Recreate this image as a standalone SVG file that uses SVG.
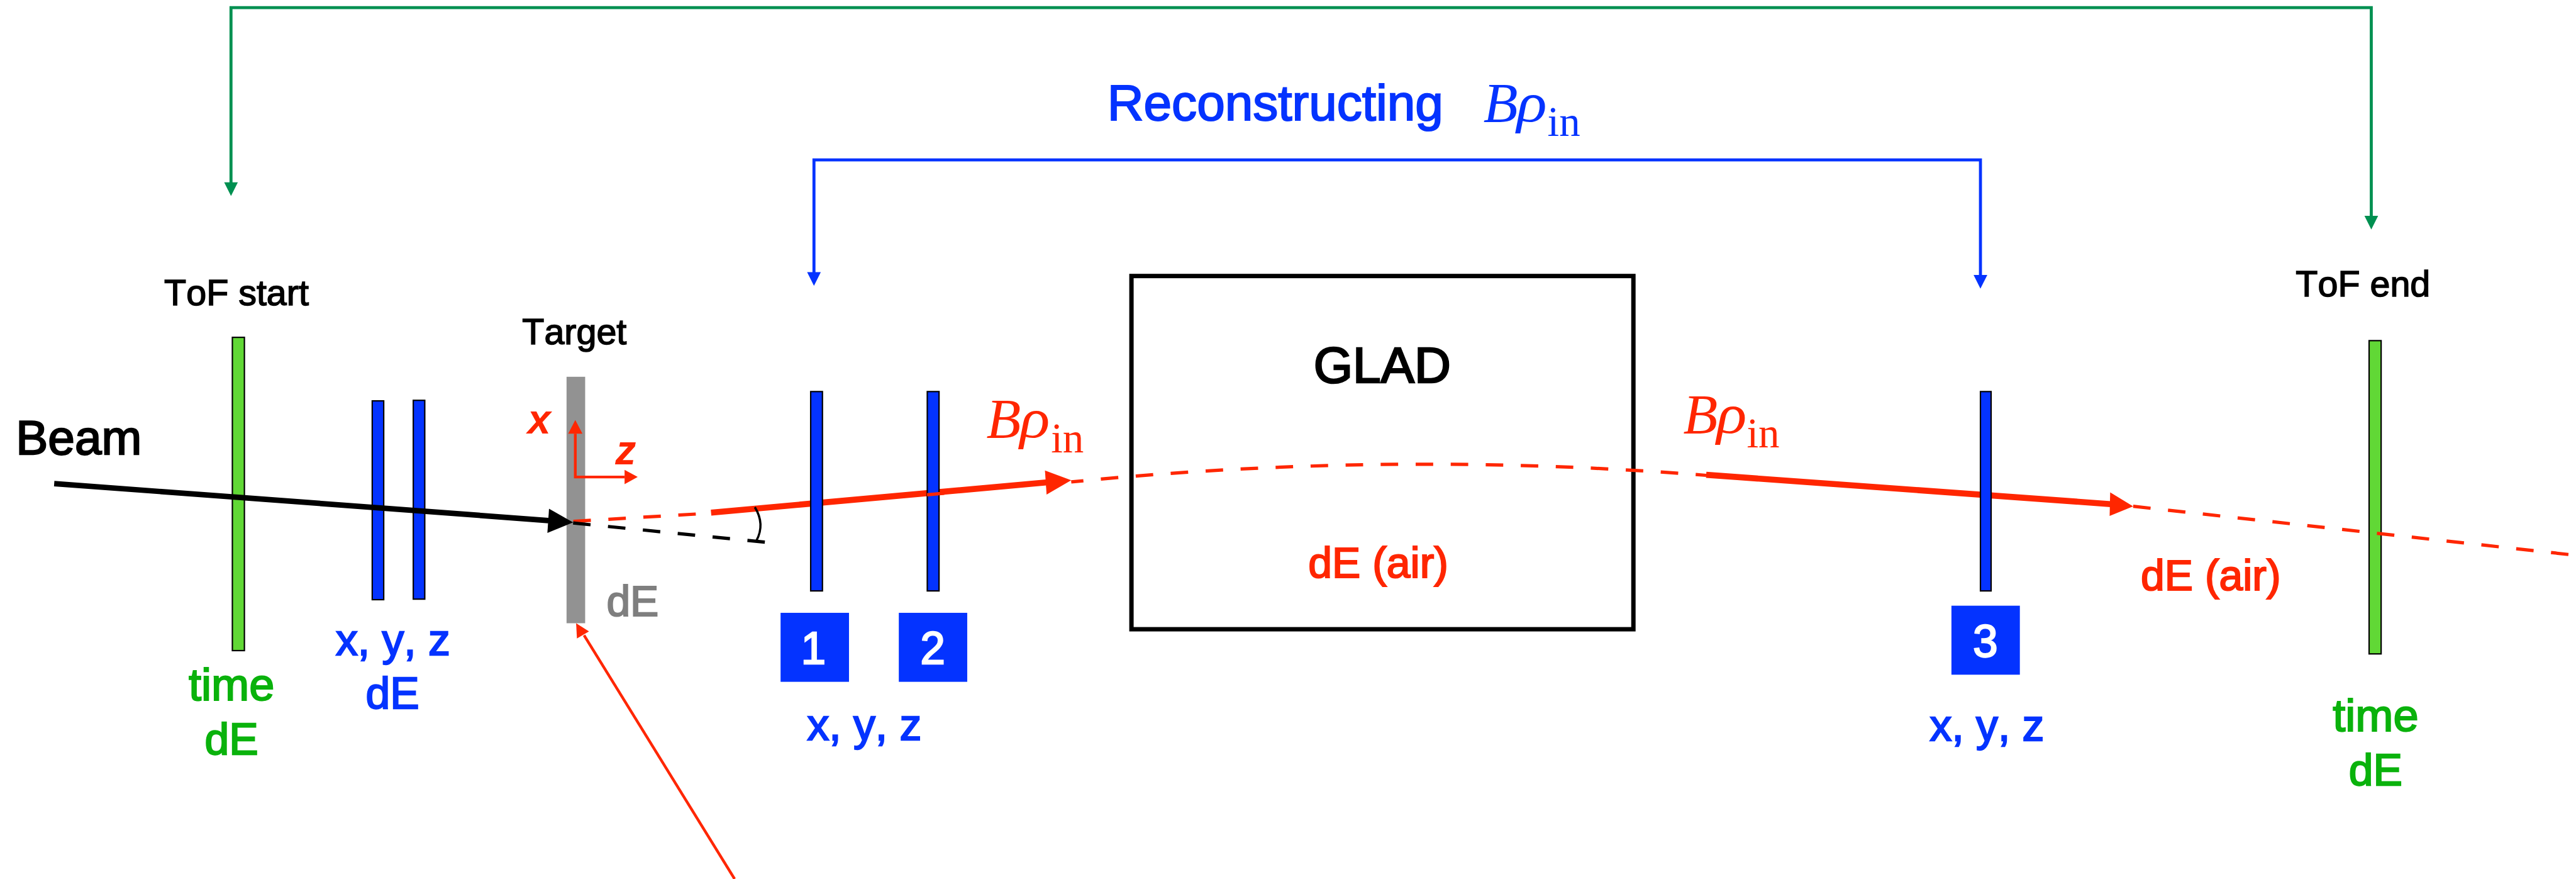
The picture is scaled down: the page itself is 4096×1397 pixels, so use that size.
<svg xmlns="http://www.w3.org/2000/svg" width="4096" height="1397" viewBox="0 0 4096 1397">
<style>
text{font-family:"Liberation Sans",Arial,sans-serif;font-kerning:none;stroke-width:1.8}
.m{text-anchor:middle}
.blue{fill:#0433ff;stroke:#0433ff}.red{fill:#ff2600;stroke:#ff2600}.grn{fill:#0ab20c;stroke:#0ab20c}.blk{fill:#000;stroke:#000}.gry{fill:#7f7f7f;stroke:#7f7f7f}.wht{fill:#fff;stroke:#fff}
.s80{font-size:80px;stroke-width:2.6}.s78{font-size:78px;stroke-width:2.4}.s66{font-size:66px}.s82{font-size:82px;stroke-width:2.6}.s83{font-size:83px;stroke-width:2.4}.s92{font-size:92px;stroke-width:3}.s88{font-size:88px;stroke-width:2.6}.s92b{font-size:92px;stroke-width:2.4}
.sym{font-family:"Liberation Serif","Times New Roman",serif;font-style:italic;font-size:103px;stroke:none}
.sub{font-family:"Liberation Serif","Times New Roman",serif;font-size:77px;stroke:none}
.ax{font-style:italic;font-weight:700;font-size:76px;fill:#ff2600;stroke:none}
.bar-b{fill:#0433ff;stroke:#000;stroke-width:2.5}
.bar-g{fill:#61d836;stroke:#000;stroke-width:2.5}
.lg{fill:none;stroke:#009051;stroke-width:5.5}
.lb{fill:none;stroke:#0433ff;stroke-width:5.5}
.lr{fill:none;stroke:#ff2600}
.hg{fill:#009051}.hb{fill:#0433ff}.hr{fill:#ff2600}
.d{stroke-dasharray:32 32;stroke-width:6}
</style>
<rect width="4096" height="1397" fill="#fff"/>
<g transform="scale(0.87038)">
<g id="thick-trajectories">
<path class="lr" stroke-width="11" d="M1299 936L1911 881"/>
<path class="lr" stroke-width="11" d="M3117 867L3856 920.5"/>
</g>
<g id="tof-start"><rect class="bar-g" x="424.5" y="616" width="22" height="572"/>
<text class="s66 blk" x="300" y="557">ToF start</text>
<text class="grn s83 m" x="423" y="1279">time</text>
<text class="grn s80 m" x="423" y="1377">dE</text></g>
<g id="tracker-in"><rect class="bar-b" x="680" y="732" width="21" height="363"/><rect class="bar-b" x="755" y="731" width="21" height="363"/>
<text class="blue s80 m" x="718" y="1196">x, y, z</text>
<text class="blue s80 m" x="717" y="1294">dE</text></g>
<g id="target"><rect x="1035" y="688" width="34" height="450" fill="#929292"/>
<text class="s66 blk" x="954" y="629">Target</text>
<text class="gry s78" x="1108" y="1125">dE</text></g>
<g id="det-1"><rect class="bar-b" x="1481" y="715" width="21.5" height="364"/>
<rect x="1426" y="1119" width="125" height="126" fill="#0433ff"/>
<text class="wht s82 m" x="1486" y="1212">1</text></g>
<g id="det-2"><rect class="bar-b" x="1694" y="715" width="21.5" height="364"/>
<rect x="1642" y="1119" width="125" height="126" fill="#0433ff"/>
<text class="wht s82 m" x="1704" y="1212">2</text></g>
<text class="blue s80 m" x="1579" y="1351">x, y, z</text>
<g id="glad"><rect x="2067" y="504" width="917" height="645" fill="none" stroke="#000" stroke-width="8"/>
<text class="blk s92 m" x="2525" y="699">GLAD</text>
<text class="red s78 m" x="2518" y="1055">dE (air)</text></g>
<g id="det-3"><rect class="bar-b" x="3618" y="715" width="19.5" height="364"/>
<rect x="3565" y="1106" width="125" height="126" fill="#0433ff"/>
<text class="wht s82 m" x="3627" y="1200">3</text>
<text class="blue s80 m" x="3630" y="1352">x, y, z</text></g>
<g id="tof-end"><rect class="bar-g" x="4328" y="622" width="22" height="572"/>
<text class="s66 blk" x="4194" y="541">ToF end</text>
<text class="grn s83 m" x="4340" y="1335">time</text>
<text class="grn s80 m" x="4340" y="1434">dE</text></g>
<g id="connectors">
<path class="lg" d="M422 334V14H4332V395"/>
<path class="hg" d="M422 358L409.500 333H434.500z"/>
<path class="hg" d="M4332 419L4319.500 394H4344.500z"/>
<path class="lb" d="M1487 498V292H3618V503"/>
<path class="hb" d="M1487 522L1474.500 497H1499.500z"/>
<path class="hb" d="M3618 527L3605.500 502H3630.500z"/>
<path d="M99 883L1002 950.500" stroke="#000" stroke-width="10" fill="none"/>
<path d="M1047 954L1003 929L1000 973z" fill="#000"/>
<path class="lr d" d="M1047.500 952L1299 937"/>
<path class="lr" stroke-width="6" d="M1693.600 903.500L1725 900.700"/>
<path d="M1047 955L1398 990" stroke="#000" stroke-width="6" stroke-dasharray="32 32" fill="none"/>
<path d="M1379 926Q1398 957 1382 987" stroke="#000" stroke-width="4" fill="none"/>
<path class="lr" stroke-width="5" d="M1051 792V871H1141"/>
<path class="hr" d="M1051 767L1064 792H1038z"/>
<path class="hr" d="M1165 871L1141 858V884z"/>
<path class="hr" d="M1957 877L1909 859L1912 903z"/>
<path class="hr" d="M3897 924.500L3855 899L3854 942z"/>
<path class="lr d" stroke-dashoffset="9.7" d="M1957 880Q2537 822 3117 868"/>
<path class="lr d" d="M3897 924.500L4706 1014"/>
<path class="lr" stroke-width="5" d="M1067 1160L1342 1605"/>
<path class="hr" d="M1052.500 1138L1076 1153L1054 1166z"/>
</g>
<g id="labels">
<text class="ax" x="964" y="792">x</text>
<text class="ax" x="1124" y="848">z</text>
<text class="blue s92b" x="2023" y="219">Reconstructing</text>
<text class="sym blue" x="2710" y="222">B</text><text class="sym blue" x="2771" y="222" textLength="55" lengthAdjust="spacingAndGlyphs">ρ</text><text class="sub blue" x="2827" y="248">in</text>
<text class="sym red" x="1802" y="799">B</text><text class="sym red" x="1863" y="799" textLength="55" lengthAdjust="spacingAndGlyphs">ρ</text><text class="sub red" x="1920" y="826">in</text>
<text class="sym red" x="3075" y="790">B</text><text class="sym red" x="3136" y="790" textLength="55" lengthAdjust="spacingAndGlyphs">ρ</text><text class="sub red" x="3191" y="817">in</text>
<text class="blk s88" x="29" y="829">Beam</text>
<text class="red s78" x="3911" y="1078">dE (air)</text>
</g>
</g>
</svg>
